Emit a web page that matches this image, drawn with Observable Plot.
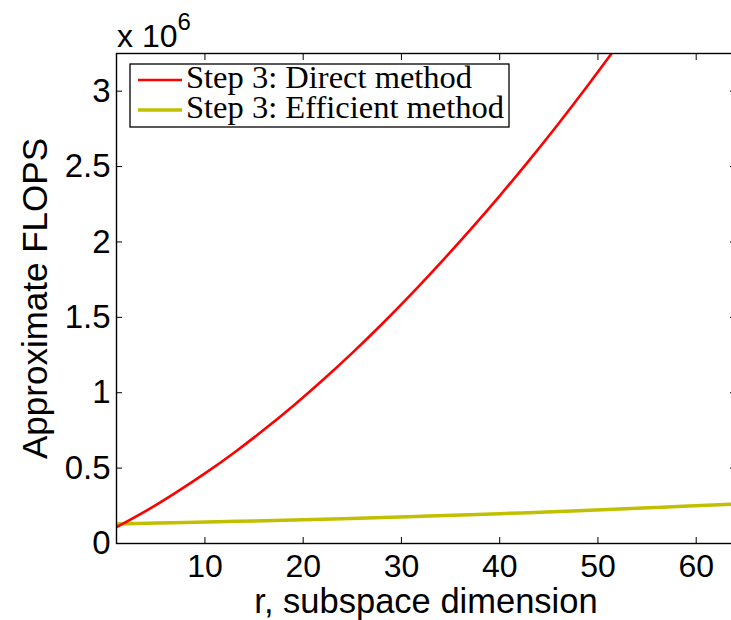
<!DOCTYPE html>
<html><head><meta charset="utf-8">
<script src="https://cdn.jsdelivr.net/npm/d3@7"></script>
<script src="https://cdn.jsdelivr.net/npm/@observablehq/plot@0.6"></script>
<style>
html,body{margin:0;padding:0;background:#fff;overflow:hidden;}
#chart{position:relative;width:731px;height:620px;overflow:hidden;}
</style>
</head><body><div id="chart"></div>
<script>
// Series (FLOPS)
const rDirect = [1, 4, 7, 10, 13, 16, 19, 22, 25, 28, 31, 34, 37, 40, 43, 46, 49, 52, 55];
const flopsDirect = [0.108e6, 0.216e6, 0.336e6, 0.465e6, 0.604e6, 0.754e6, 0.914e6, 1.084e6, 1.264e6, 1.454e6, 1.654e6, 1.863e6, 2.080e6, 2.306e6, 2.541e6, 2.786e6, 3.041e6, 3.305e6, 3.579e6];
const rEfficient = [1, 8, 16, 24, 32, 40, 48, 56, 64];
const flopsEfficient = [0.130e6, 0.139e6, 0.151e6, 0.164e6, 0.180e6, 0.198e6, 0.217e6, 0.239e6, 0.262e6];
const seriesNames = ["Step 3: Direct method", "Step 3: Efficient method"];
const seriesColors = ["#ff0000", "#c0c000"];
const xTicks = [10, 20, 30, 40, 50, 60];
const yTicks = [0, 0.5e6, 1e6, 1.5e6, 2e6, 2.5e6, 3e6];
const xLabel = "r, subspace dimension";
const yLabel = "Approximate FLOPS";

const direct = rDirect.map((r, i) => ({r, v: flopsDirect[i]}));
const efficient = rEfficient.map((r, i) => ({r, v: flopsEfficient[i]}));

const sans = "'Liberation Sans', Arial, Helvetica, sans-serif";

const plot = Plot.plot({
  width: 731,
  height: 620,
  marginLeft: 116,
  marginRight: -4,
  marginTop: 53,
  marginBottom: 77,
  style: {fontFamily: sans, fontSize: "33px", color: "#000", background: "#fff"},
  x: {domain: [1, 64]},
  y: {domain: [0, 3.25e6]},
  marks: [
    Plot.line(efficient, {x: "r", y: "v", stroke: seriesColors[1], strokeWidth: 3.5, curve: "catmull-rom", clip: true}),
    Plot.line(direct, {x: "r", y: "v", stroke: seriesColors[0], strokeWidth: 2.6, curve: "catmull-rom", clip: true}),
    Plot.frame({stroke: "#000", strokeWidth: 1.4}),
    Plot.axisX(xTicks, {anchor: "bottom", tickSize: -6, tickPadding: 17, label: null, fontSize: 32}),
    Plot.axisX(xTicks, {anchor: "top", tickSize: -6, tickFormat: () => "", label: null}),
    Plot.axisY(yTicks, {anchor: "left", tickSize: -6, tickPadding: 12, tickFormat: d => String(d / 1e6), label: null, fontSize: 33}),
    Plot.axisY(yTicks, {anchor: "right", tickSize: -6, tickFormat: () => "", label: null}),
    Plot.text([xLabel], {frameAnchor: "bottom", dy: 58, textAnchor: "middle", lineAnchor: "middle", fontSize: 34.5, fill: "#000"}),
    Plot.text([yLabel], {frameAnchor: "left", dx: -81, rotate: -90, textAnchor: "middle", lineAnchor: "middle", fontSize: 35, fill: "#000"})
  ]
});

document.getElementById("chart").appendChild(plot);

const svg = d3.select(plot);
// exponent multiplier
const ex = svg.append("text").attr("x", 117).attr("y", 47).attr("text-anchor", "start")
  .attr("font-family", sans).attr("font-size", 32).attr("fill", "#000").text("x 10");
ex.append("tspan").attr("font-size", 24).attr("dy", -17).text("6");

// legend
const lg = svg.append("g").attr("text-anchor", "start");
lg.append("rect").attr("x", 130).attr("y", 64).attr("width", 379).attr("height", 63)
  .attr("fill", "#fff").attr("stroke", "#000").attr("stroke-width", 1.3);
seriesNames.forEach((name, i) => {
  const yy = 80 + i * 30;
  lg.append("line").attr("x1", 138).attr("x2", 182).attr("y1", yy).attr("y2", yy)
    .attr("stroke", seriesColors[i]).attr("stroke-width", i === 0 ? 2.6 : 3.5);
  lg.append("text").attr("x", 186).attr("y", yy + 8).attr("text-anchor", "start")
    .attr("font-family", "'Liberation Serif', 'Times New Roman', serif").attr("font-size", 32.5)
    .attr("fill", "#000").text(name);
});
</script>
</body></html>
